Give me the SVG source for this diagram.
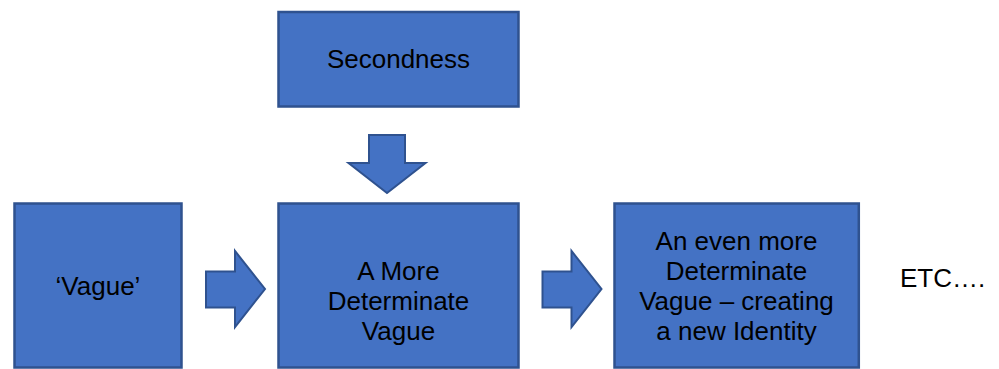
<svg xmlns="http://www.w3.org/2000/svg" width="999" height="369" viewBox="0 0 999 369">
<style>
.box{fill:#4472C4;stroke:#2F528F;stroke-width:2.5}
.arr{fill:#4472C4;stroke:#2F528F;stroke-width:2;stroke-linejoin:miter}
text{font-family:"Liberation Sans",Arial,sans-serif;font-size:26px;fill:#000;text-anchor:middle}
</style>
<rect width="999" height="369" fill="#fff"/>
<g id="connectors">
<polygon class="arr" points="369,135 405,135 405,163 425.5,163 387,193 348.5,163 369,163"/>
<polygon class="arr" points="206,271.5 235,271.5 235,251 265,289 235,327 235,307.5 206,307.5"/>
<polygon class="arr" points="542.5,271.5 571.5,271.5 571.5,251 601.5,289 571.5,327 571.5,307.5 542.5,307.5"/>
</g>
<g id="secondness">
<rect class="box" x="278.5" y="12" width="240" height="94.5"/>
<text x="398.5" y="68">Secondness</text>
</g>
<g id="vague">
<rect class="box" x="14.5" y="203.5" width="167" height="164"/>
<text x="98" y="295">‘Vague’</text>
</g>
<g id="more-determinate">
<rect class="box" x="278.5" y="203.5" width="240" height="164"/>
<text x="398.5" y="280">A More</text>
<text x="398.5" y="310">Determinate</text>
<text x="398.5" y="340">Vague</text>
</g>
<g id="even-more">
<rect class="box" x="614.5" y="203.5" width="244.3" height="164"/>
<text x="736.5" y="250">An even more</text>
<text x="736.5" y="280">Determinate</text>
<text x="736.5" y="310">Vague – creating</text>
<text x="736.5" y="340">a new Identity</text>
</g>
<g id="etc">
<text x="900" y="287" style="text-anchor:start">ETC….</text>
</g>
</svg>
